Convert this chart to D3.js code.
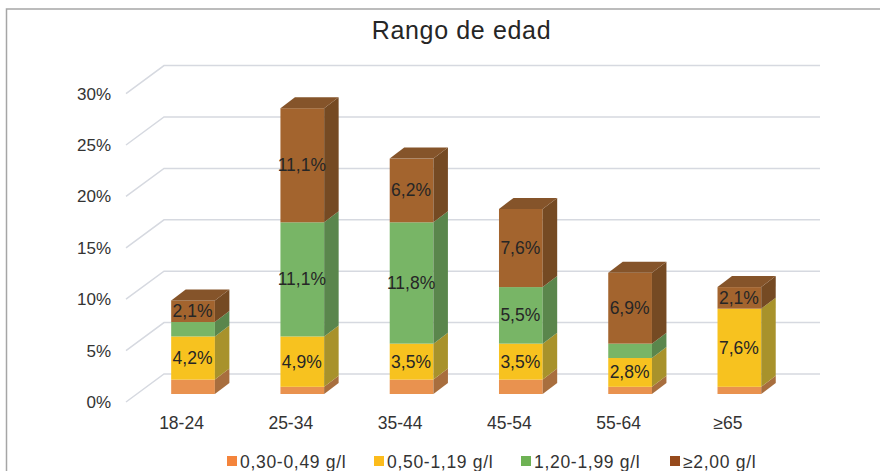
<!DOCTYPE html>
<html lang="en">
    <head>
        <meta charset="utf-8">
        <style>
            html, body { margin: 0; padding: 0; background: #fff; }
            svg { display: block; }
            text { font-family: "Liberation Sans", sans-serif; }
        </style>
        <script src="https://d3js.org/d3.v7.min.js"></script>
        <title>Rango de edad</title>
    </head>
    <body>
        <div id="chart"></div>
        <script>
            var ageGroups = ["18-24", "25-34", "35-44", "45-54", "55-64", "≥65"];
            var seriesNames = ["0,30-0,49 g/l", "0,50-1,19 g/l", "1,20-1,99 g/l", "≥2,00 g/l"];
            var low = [1.4, 0.7, 1.4, 1.4, 0.7, 0.7];
            var mid = [4.2, 4.9, 3.5, 3.5, 2.8, 7.6];
            var high = [1.4, 11.1, 11.8, 5.5, 1.4, 0];
            var top2 = [2.1, 11.1, 6.2, 7.6, 6.9, 2.1];
            var yTicks = [0, 5, 10, 15, 20, 25, 30];

            var frontColors = ["#e9924f", "#f7c21f", "#78b566", "#a3642e"];
            var sideColors = ["#a86e3e", "#a8922b", "#5a864c", "#754a23"];
            var topColor = "#85542a";
            var legendColors = ["#f4843c", "#fcbc1c", "#6eb254", "#964a1c"];

            var width = 880, height = 471;
            var depthX = 14.5, depthY = 11;     // bar depth
            var floorX = 38, floorY = 28;       // wall offset from the front of the floor

            var svg = d3.select("#chart").append("svg")
                .attr("width", width)
                .attr("height", height);

            // chart frame, runs off the right and bottom of the picture
            svg.append("path")
                .attr("d", "M6.5 " + height + "V9H" + width)
                .attr("fill", "none")
                .attr("stroke", "#a6a6a6")
                .attr("stroke-width", 1.5);

            var x = d3.scaleBand()
                .domain(ageGroups)
                .range([138.4, 794])
                .paddingInner(0.6)
                .paddingOuter(0.3);

            // y for the plane the bar fronts sit on
            var y = d3.scaleLinear()
                .domain([0, 30])
                .range([394, 85.6]);

            svg.append("text")
                .attr("x", 461.5)
                .attr("y", 39)
                .attr("text-anchor", "middle")
                .attr("font-size", 25)
                .attr("letter-spacing", 0.65)
                .attr("fill", "#262626")
                .text("Rango de edad");

            // gridlines, floor part then wall
            svg.append("g")
                .selectAll("path")
                .data(yTicks)
                .join("path")
                .attr("fill", "none")
                .attr("stroke", "#d6d9e0")
                .attr("stroke-width", 1.5)
                .attr("d", function(d) {
                    var wall = y(d) - 20;
                    return "M126 " + (wall + floorY) + "L" + (126 + floorX) + " " + wall + "H820";
                });

            svg.append("g")
                .selectAll("text")
                .data(yTicks)
                .join("text")
                .attr("x", 111)
                .attr("y", function(d) { return y(d) + 14; })
                .attr("text-anchor", "end")
                .attr("font-size", 17)
                .attr("fill", "#333")
                .text(function(d) { return d + "%"; });

            svg.append("g")
                .selectAll("text")
                .data(ageGroups)
                .join("text")
                .attr("x", function(d) { return x(d) + x.bandwidth() / 2 - 11.5; })
                .attr("y", 429)
                .attr("text-anchor", "middle")
                .attr("font-size", 17.5)
                .attr("fill", "#333")
                .text(function(d) { return d; });

            var seriesValues = [low, mid, high, top2];
            var stackData = ageGroups.map(function(name, i) {
                var row = { name: name };
                seriesValues.forEach(function(s, j) { row[j] = s[i]; });
                return row;
            });
            var stack = d3.stack().keys([0, 1, 2, 3])(stackData);

            var bars = svg.append("g");
            var w = x.bandwidth();

            stack.forEach(function(layer, j) {
                var g = bars.append("g");
                layer.forEach(function(seg, i) {
                    var name = ageGroups[i];
                    var value = seriesValues[j][i];
                    if (value == 0) return;
                    var x0 = x(name), y0 = y(seg[0]), y1 = y(seg[1]);
                    g.append("rect")
                        .attr("x", x0)
                        .attr("y", y1)
                        .attr("width", w)
                        .attr("height", y0 - y1)
                        .attr("fill", frontColors[j]);
                    g.append("path")
                        .attr("d", "M" + (x0 + w) + " " + y0 + "l" + depthX + " " + (-depthY)
                            + "V" + (y1 - depthY) + "L" + (x0 + w) + " " + y1 + "Z")
                        .attr("fill", sideColors[j]);
                    if (j == 3) {
                        g.append("path")
                            .attr("d", "M" + x0 + " " + y1 + "l" + depthX + " " + (-depthY)
                                + "h" + w + "l" + (-depthX) + " " + depthY + "Z")
                            .attr("fill", topColor);
                    }
                });
            });

            // data labels on top of every bar
            var labels = svg.append("g");
            stack.forEach(function(layer, j) {
                layer.forEach(function(seg, i) {
                    var value = seriesValues[j][i];
                    if (j == 0 || value < 2) return;
                    labels.append("text")
                        .attr("x", x(ageGroups[i]) + w / 2 - 0.5)
                        .attr("y", (y(seg[0]) + y(seg[1])) / 2 + 6)
                        .attr("text-anchor", "middle")
                        .attr("font-size", 17.5)
                        .attr("fill", "#262626")
                        .text(String(value).replace(".", ",") + "%");
                });
            });

            // legend
            var legendX = [227, 374, 521, 670];
            var legend = svg.append("g")
                .selectAll("g")
                .data(seriesNames)
                .join("g")
                .attr("transform", function(d, i) { return "translate(" + legendX[i] + ",456)"; });
            legend.append("rect")
                .attr("width", 10)
                .attr("height", 10)
                .attr("fill", function(d, i) { return legendColors[i]; });
            legend.append("text")
                .attr("x", 13)
                .attr("y", 12)
                .attr("font-size", 17.5)
                .attr("letter-spacing", 0.7)
                .attr("fill", "#333")
                .text(function(d) { return d; });
        </script>
    </body>
</html>
